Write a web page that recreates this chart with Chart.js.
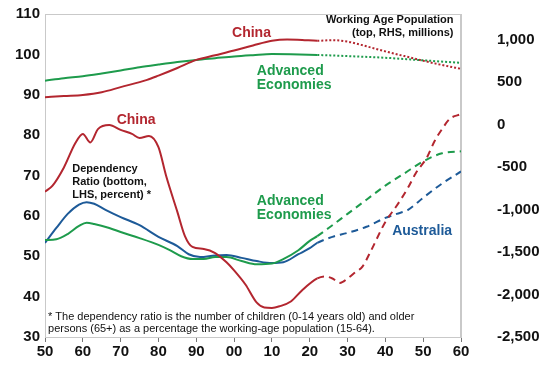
<!DOCTYPE html>
<html>
<head>
<meta charset="utf-8">
<script src="https://cdn.jsdelivr.net/npm/chart.js@4.4.0/dist/chart.umd.min.js"></script>
<style>
  html, body { margin: 0; padding: 0; background: #fff; }
  #wrap { width: 548px; height: 366px; }
</style>
</head>
<body>
<div id="wrap"><canvas id="chart"></canvas></div>
<script>
var red = '#b3262f', green = '#1e9b4c', blue = '#1d5a98';

// working age population, RHS, millions (dotted after 2022)
var chinaWapYears = [1950, 1955, 1960, 1965, 1970, 1977, 1980, 1985, 1990, 1995, 2000, 2005, 2010, 2014, 2018, 2022, 2026, 2030, 2035, 2040, 2045, 2050, 2055, 2060];
var chinaWap      = [320, 335, 348, 380, 440, 525, 575, 665, 760, 815, 870, 930, 985, 1000, 995, 985, 992, 975, 920, 860, 805, 750, 700, 655];
var advWapYears = [1950, 1955, 1960, 1965, 1970, 1975, 1980, 1985, 1990, 1995, 2000, 2005, 2010, 2015, 2022, 2030, 2040, 2050, 2060];
var advWap      = [516, 545, 568, 600, 635, 673, 705, 735, 760, 780, 800, 815, 828, 826, 818, 805, 785, 755, 725];

// dependency ratio, LHS, percent (dashed after 2022)
var chinaDrYears = [1950, 1952, 1955, 1958, 1960, 1962, 1964, 1967, 1970, 1973, 1975, 1977.5, 1980, 1982, 1985, 1987, 1989, 1992, 1995, 1998, 2000, 2003, 2006, 2008, 2010, 2012, 2015, 2018, 2022, 2024, 2026, 2028, 2030, 2032, 2034, 2036, 2040, 2043, 2046, 2048, 2051, 2053, 2055, 2057, 2060];
var chinaDr      = [66, 67.5, 72, 78, 80.3, 78.2, 81.5, 82.5, 81.3, 80.3, 79.3, 79.8, 77, 70, 61, 55, 52.3, 51.8, 50.8, 48.5, 46.5, 43, 38.5, 37.3, 37.2, 37.6, 38.8, 41.6, 44.5, 45, 44.5, 43.4, 44.5, 46, 47.5, 51, 58.5, 62.5, 67, 70.5, 74.5, 78.5, 81.5, 84, 85.2];
var advDrYears = [1950, 1953, 1956, 1959, 1961, 1963, 1967, 1970, 1975, 1980, 1983, 1986, 1989, 1992, 1995, 1998, 2002, 2006, 2010, 2013, 2017, 2020, 2022, 2025, 2030, 2035, 2040, 2045, 2050, 2055, 2060];
var advDr      = [54, 54.2, 55.5, 57.5, 58.3, 58, 57, 56, 54.5, 52.8, 51.5, 50, 49.3, 49.3, 49.8, 49.8, 48.8, 48, 48.2, 49.3, 51.5, 53.8, 55, 57, 60.5, 64, 67.5, 70.5, 73.5, 75.5, 76];
var ausDrYears = [1950, 1953, 1956, 1959, 1961, 1963, 1966, 1970, 1975, 1980, 1985, 1988, 1991, 1995, 1998, 2002, 2006, 2010, 2013, 2017, 2020, 2022, 2026, 2030, 2035, 2040, 2043, 2046, 2050, 2055, 2060];
var ausDr      = [53.3, 57, 60.5, 62.8, 63.4, 63, 61.5, 59.7, 57.7, 54.8, 52.5, 50.5, 49.8, 50.2, 50.3, 49.6, 48.8, 48.3, 48.5, 50.5, 52, 53.3, 54.8, 55.8, 57.3, 59.5, 60.5, 61.5, 64.5, 68, 71];

var xTicks = [1950, 1960, 1970, 1980, 1990, 2000, 2010, 2020, 2030, 2040, 2050, 2060];
var leftTicks = [30, 40, 50, 60, 70, 80, 90, 100, 110];
var rightTicks = [-2500, -2000, -1500, -1000, -500, 0, 500, 1000];

// text on the chart, placed in (year, LHS value)
var notes = [
  { text: 'China', x: 2004.6, y: 105.3, color: red, size: 14, align: 'center' },
  { text: 'Working Age Population', x: 2058, y: 108.5, color: '#111', size: 11, align: 'right' },
  { text: '(top, RHS, millions)', x: 2058, y: 105.3, color: '#111', size: 11, align: 'right' },
  { text: 'Advanced', x: 2006, y: 95.9, color: green, size: 14, align: 'left' },
  { text: 'Economies', x: 2006, y: 92.4, color: green, size: 14, align: 'left' },
  { text: 'China', x: 1974.1, y: 83.7, color: red, size: 14, align: 'center' },
  { text: 'Dependency', x: 1957.2, y: 71.6, color: '#111', size: 11, align: 'left' },
  { text: 'Ratio (bottom,', x: 1957.2, y: 68.4, color: '#111', size: 11, align: 'left' },
  { text: 'LHS, percent) *', x: 1957.2, y: 65.2, color: '#111', size: 11, align: 'left' },
  { text: 'Advanced', x: 2006, y: 63.7, color: green, size: 14, align: 'left' },
  { text: 'Economies', x: 2006, y: 60.2, color: green, size: 14, align: 'left' },
  { text: 'Australia', x: 2041.8, y: 56.3, color: blue, size: 14, align: 'left' },
  { text: '* The dependency ratio is the number of children (0-14 years old) and older', x: 1950.8, y: 35, color: '#111', size: 11, align: 'left', normal: true },
  { text: 'persons (65+) as a percentage the working-age population (15-64).', x: 1950.8, y: 32, color: '#111', size: 11, align: 'left', normal: true }
];

function pts(years, vals) {
  var out = [];
  for (var i = 0; i < years.length; i++) out.push({ x: years[i], y: vals[i] });
  return out;
}

function series(label, years, vals, color, axis, dash) {
  return {
    label: label,
    data: pts(years, vals),
    yAxisID: axis,
    borderColor: color,
    borderWidth: 2,
    pointRadius: 0,
    fill: false,
    cubicInterpolationMode: 'monotone',
    segment: {
      borderDash: function (ctx) { return ctx.p0.parsed.x >= 2022 ? dash : undefined; }
    }
  };
}

var frame = {
  id: 'frame',
  beforeDatasetsDraw: function (chart) {
    var a = chart.chartArea, c = chart.ctx;
    c.save();
    c.strokeStyle = '#c9c9c9';
    c.lineWidth = 1;
    c.strokeRect(a.left + 0.5, a.top + 0.5, a.right - a.left - 1, a.bottom - a.top);
    c.restore();
  }
};

var texts = {
  id: 'texts',
  afterDatasetsDraw: function (chart) {
    var c = chart.ctx, xs = chart.scales.x, ys = chart.scales.y;
    c.save();
    c.textBaseline = 'middle';
    notes.forEach(function (n) {
      c.font = (n.normal ? '' : 'bold ') + n.size + 'px "Liberation Sans", Arial, sans-serif';
      c.fillStyle = n.color;
      c.textAlign = n.align;
      c.fillText(n.text, xs.getPixelForValue(n.x), ys.getPixelForValue(n.y));
    });
    c.restore();
  }
};

var tickFont = { family: '"Liberation Sans", Arial, sans-serif', size: 15, weight: 'bold' };

// tick padding also pads the axis ends; keep only half a label there
function trimEnds(s) { s.paddingTop = 9; s.paddingBottom = 9; }

new Chart(document.getElementById('chart'), {
  type: 'line',
  data: {
    datasets: [
      series('China WAP', chinaWapYears, chinaWap, red, 'y1', [2, 2]),
      series('Advanced WAP', advWapYears, advWap, green, 'y1', [2, 2]),
      series('China DR', chinaDrYears, chinaDr, red, 'y', [7, 5]),
      series('Advanced DR', advDrYears, advDr, green, 'y', [7, 5]),
      series('Australia DR', ausDrYears, ausDr, blue, 'y', [7, 5])
    ]
  },
  options: {
    responsive: true,
    maintainAspectRatio: false,
    animation: false,
    layout: { padding: { top: 14, right: 0, bottom: 0, left: 0 } },
    plugins: { legend: { display: false }, tooltip: { enabled: false } },
    scales: {
      x: {
        type: 'linear',
        min: 1950,
        max: 2060,
        afterBuildTicks: function (s) { s.ticks = xTicks.map(function (v) { return { value: v }; }); },
        afterFit: function (s) { s.height = 29; },
        ticks: {
          color: '#111',
          font: tickFont,
          padding: 1,
          maxRotation: 0,
          callback: function (v) { return String(v % 100).padStart(2, '0'); }
        },
        grid: { drawOnChartArea: false, drawTicks: true, tickLength: 5, color: '#777' },
        border: { color: '#777' }
      },
      y: {
        position: 'left',
        min: 30,
        max: 110,
        afterBuildTicks: function (s) { s.ticks = leftTicks.map(function (v) { return { value: v }; }); },
        afterFit: function (s) { s.width = 45; trimEnds(s); },
        ticks: { color: '#111', font: tickFont, padding: 5 },
        grid: { display: false, drawTicks: false },
        border: { color: '#c9c9c9' }
      },
      y1: {
        position: 'right',
        min: -2500,
        max: 1300,
        afterBuildTicks: function (s) { s.ticks = rightTicks.map(function (v) { return { value: v }; }); },
        afterFit: function (s) { s.width = 87; trimEnds(s); },
        ticks: {
          color: '#111',
          font: tickFont,
          padding: 36,
          callback: function (v) { return v.toLocaleString('en-US'); }
        },
        grid: { display: false, drawTicks: false },
        border: { color: '#c9c9c9' }
      }
    }
  },
  plugins: [frame, texts]
});
</script>
</body>
</html>
